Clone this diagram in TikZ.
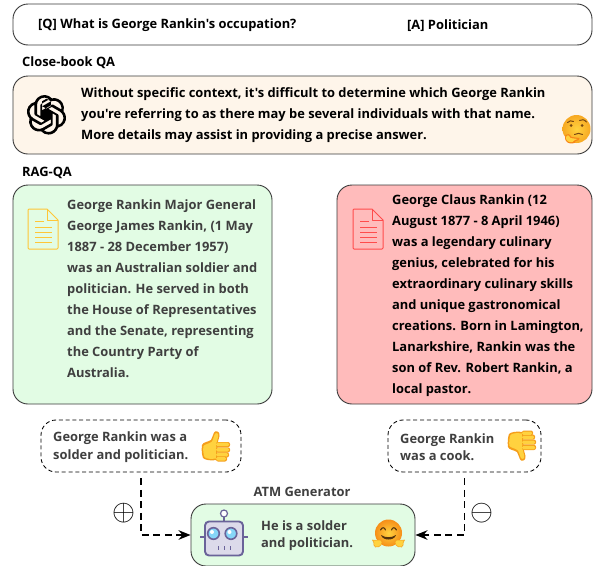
\documentclass[tikz,border=0pt]{standalone}
\usepackage{fontspec}
\setmainfont{Open Sans}[Ligatures=TeXOff]
\usetikzlibrary{arrows.meta,svg.path}
\definecolor{bord}{HTML}{3A3A3A}
\definecolor{cream}{HTML}{FEF5EA}
\definecolor{mint}{HTML}{E2FCE4}
\definecolor{rosy}{HTML}{FFBBBB}
\definecolor{grayt}{HTML}{3F3F3F}
\definecolor{emA}{HTML}{FFD23F}
\definecolor{emB}{HTML}{F59E1B}
\definecolor{emC}{HTML}{7A4A12}
\definecolor{rob}{HTML}{6A6399}
\definecolor{robf}{HTML}{DCDAEA}
\definecolor{robe}{HTML}{86D6F8}
\tikzset{
  box/.style={draw=bord,line width=0.9pt,rounded corners=15pt,inner sep=0pt},
  dbox/.style={draw=black,line width=0.85pt,dash pattern=on 4pt off 2.8pt,rounded corners=15pt,inner sep=0pt},
  txt/.style={inner sep=0pt,anchor=west,align=left,font=\bfseries\fontsize{12.9}{21}\selectfont,text=black},
  gtxt/.style={txt,text=grayt},
  sm/.style={font=\bfseries\fontsize{12.9}{17.5}\selectfont},
  flow/.style={line width=1.6pt,dash pattern=on 7pt off 4.5pt,-{Stealth[length=12pt,width=9.5pt]}},
  sign/.style={inner sep=0pt,scale=2.95},
  fold/.style={line width=1pt,line join=round},
}
\newcommand{\docicon}[3]{%
 \begin{scope}[shift={(#1,#2)},fold,draw=#3]
  \draw (0,1) -- (0,39) -- (1,40) -- (29,40) -- (30,39) -- (30,11) -- (19,0) -- (1,0) -- cycle;
  \draw (19,0) -- (19,11) -- (30,11);
  \draw (7,12) -- (16,12);
  \foreach \yy in {18,23,28,33}{\draw (7,\yy) -- (24,\yy);}
 \end{scope}}
\newcommand{\thumbshape}{%
  \fill[emB] (0,14) .. controls (1,11) and (6,11) .. (9,9) .. controls (11,6) and (11,2) .. (13,0.5)
     .. controls (16,-0.5) and (18,2) .. (17.5,5) -- (16,10.5) -- (15,29) .. controls (8,30) and (3,29) .. (1,27) .. controls (-0.5,23) and (-0.5,18) .. (0,14) -- cycle;
  \fill[emA] (1.5,15) .. controls (3,13) and (7,13) .. (10,10.5) .. controls (12,7) and (12,3) .. (14,2)
     .. controls (16,1.5) and (16.5,3) .. (16,6) -- (14.5,12) -- (14,27.5) .. controls (8,28.5) and (4,27.5) .. (2.5,26) .. controls (1,22) and (1,18) .. (1.5,15) -- cycle;
  \foreach \yy/\xe in {11/28,16.3/28,21.3/27,25.3/25}{
    \fill[emB,rounded corners=2pt] (14,\yy) rectangle (\xe,\yy+5.2);
    \fill[emA,rounded corners=1.6pt] (14,\yy+.6) rectangle (\xe-.8,\yy+4.2);
  }}
\begin{document}
\begin{tikzpicture}[x=1pt,y=-1pt]
\useasboundingbox (0,0) rectangle (594,565);
% boxes
\node[box,minimum width=579pt,minimum height=41pt] (q) at (302.5,24.5) {};
\node[box,fill=cream,minimum width=579pt,minimum height=78pt] (cb) at (302.5,115) {};
\node[box,fill=mint,minimum width=259pt,minimum height=219pt] (gl) at (142.5,294.5) {};
\node[box,fill=rosy,minimum width=255pt,minimum height=219pt] (rd) at (464.5,294.5) {};
\node[dbox,minimum width=200pt,minimum height=52pt] (dl) at (141,446) {};
\node[dbox,minimum width=153pt,minimum height=52pt] (dr) at (464.5,446) {};
\node[box,fill=mint,minimum width=224pt,minimum height=62pt] (atm) at (303,535) {};
% text
\node[txt] (tq) at (38,25.5) {[Q] What is George Rankin's occupation?};
\node[txt] (ta) at (407,25.5) {[A] Politician};
\node[txt] (tc) at (22,62.5) {Close-book QA};
\node[txt] (tr) at (22,172.5) {RAG-QA};
\node[txt] (tcb) at (81,115.5) {Without specific context, it's difficult to determine which George Rankin\\you're referring to as there may be several individuals with that name.\\More details may assist in providing a precise answer.};
\node[gtxt] (tg) at (67,288.5) {George Rankin Major General\\George James Rankin, (1 May\\1887 - 28 December 1957)\\was an Australian soldier and\\politician. He served in both\\the House of Representatives\\and the Senate, representing\\the Country Party of\\Australia.};
\node[txt] (tb) at (392,295.5) {George Claus Rankin (12\\August 1877 - 8 April 1946)\\was a legendary culinary\\genius, celebrated for his\\extraordinary culinary skills\\and unique gastronomical\\creations. Born in Lamington,\\Lanarkshire, Rankin was the\\son of Rev. Robert Rankin, a\\local pastor.};
\node[gtxt,sm] (tdl) at (53,447) {George Rankin was a\\solder and politician.};
\node[gtxt,sm] (tdr) at (400,447) {George Rankin\\was a cook.};
\node[gtxt,anchor=center] (tatm) at (302,491.5) {ATM Generator};
\node[gtxt,sm] (tan) at (261,535.5) {He is a solder\\and politician.};
% connectors
\draw[flow,shorten <=6pt] (dl.south) |- (atm.west);
\draw[flow,shorten <=6pt] (dr.south) |- (atm.east);
\node[sign] (plus) at (124,513.5) {$\oplus$};
\node[sign] (minus) at (481.5,513.5) {$\ominus$};
% doc icons
\docicon{28}{209}{emA!85!orange}
\docicon{353}{209}{red!70!white}
% openai logo
\begin{scope}[shift={(26.7,95)},xscale=1.65,yscale=-1.65]
 \fill[black,even odd rule] svg "M 22.2819 9.8211 a 5.9847 5.9847 0 0 0 -0.5157 -4.9108 6.0462 6.0462 0 0 0 -6.5098 -2.9 A 6.0651 6.0651 0 0 0 4.9807 4.1818 a 5.9847 5.9847 0 0 0 -3.9977 2.9 6.0462 6.0462 0 0 0 0.7427 7.0966 5.98 5.98 0 0 0 0.511 4.9107 6.051 6.051 0 0 0 6.5146 2.9001 A 5.9847 5.9847 0 0 0 13.2599 24 a 6.0557 6.0557 0 0 0 5.7718 -4.2058 5.9894 5.9894 0 0 0 3.9977 -2.9001 6.0557 6.0557 0 0 0 -0.7475 -7.0729 z m -9.022 12.6081 a 4.4755 4.4755 0 0 1 -2.8764 -1.0408 l 0.1419 -0.0804 4.7783 -2.7582 a 0.7948 0.7948 0 0 0 0.3927 -0.6813 v -6.7369 l 2.02 1.1686 a 0.071 0.071 0 0 1 0.038 0.052 v 5.5826 a 4.504 4.504 0 0 1 -4.4945 4.4944 z m -9.6607 -4.1254 a 4.4708 4.4708 0 0 1 -0.5346 -3.0137 l 0.142 0.0852 4.783 2.7582 a 0.7712 0.7712 0 0 0 0.7806 0 l 5.8428 -3.3685 v 2.3324 a 0.0804 0.0804 0 0 1 -0.0332 0.0615 L 9.74 19.9502 a 4.4992 4.4992 0 0 1 -6.1408 -1.6464 z M 2.3408 7.8956 a 4.485 4.485 0 0 1 2.3655 -1.9728 V 11.6 a 0.7664 0.7664 0 0 0 0.3879 0.6765 l 5.8144 3.3543 -2.0201 1.1685 a 0.0757 0.0757 0 0 1 -0.071 0 l -4.8303 -2.7865 A 4.504 4.504 0 0 1 2.3408 7.872 z m 16.5963 3.8558 L 13.1038 8.364 15.1192 7.2 a 0.0757 0.0757 0 0 1 0.071 0 l 4.8303 2.7913 a 4.4944 4.4944 0 0 1 -0.6765 8.1042 v -5.6772 a 0.79 0.79 0 0 0 -0.407 -0.667 z m 2.0107 -3.0231 l -0.142 -0.0852 -4.7735 -2.7818 a 0.7759 0.7759 0 0 0 -0.7854 0 L 9.409 9.2297 V 6.8974 a 0.0662 0.0662 0 0 1 0.0284 -0.0615 l 4.8303 -2.7866 a 4.4992 4.4992 0 0 1 6.6802 4.66 z M 8.3065 12.863 l -2.02 -1.1638 a 0.0804 0.0804 0 0 1 -0.038 -0.0567 V 6.0742 a 4.4992 4.4992 0 0 1 7.3757 -3.4537 l -0.142 0.0805 L 8.704 5.459 a 0.7948 0.7948 0 0 0 -0.3927 0.6813 z m 1.0976 -2.3654 l 2.602 -1.4998 2.6069 1.4998 v 2.9994 l -2.5974 1.4997 -2.6067 -1.4997 Z";
\end{scope}
% thinking face
\begin{scope}[shift={(576.5,129)}]
 \shade[inner color=emA,outer color=emB!80!emA] (0,0) circle (14);
 \draw[emC,line width=1pt,line cap=round] (-9,-6.5) .. controls (-7,-8.5) and (-5,-8.5) .. (-3,-7.5);
 \draw[emC,line width=1pt,line cap=round] (3,-8.5) .. controls (5,-10) and (8,-9.5) .. (10,-7);
 \fill[emC] (-5.5,-3.5) circle (1.5) (5.5,-3.5) circle (1.5);
 \draw[emC,line width=1pt,line cap=round] (-2,5.5) .. controls (1,4) and (3,4) .. (6,5.5);
 \fill[emB!85!red] (-11,6) .. controls (-9,4) and (-7,5) .. (-5,8) -- (3,9) .. controls (4,11) and (1,12) .. (-1,12) .. controls (0,15) and (-7,15) .. (-9,13.5) .. controls (-12,11) and (-12,8) .. (-11,6) -- cycle;
 \fill[emA] (-10,7) .. controls (-9,5.5) and (-8,6) .. (-6,9) -- (1,10) .. controls (0,11) and (-3,11) .. (-3,12) .. controls (-3,13.5) and (-7,13.5) .. (-8.5,12.5) .. controls (-11,10) and (-11,9) .. (-10,7) -- cycle;
\end{scope}
% hugging face
\begin{scope}[shift={(388.5,533)}]
 \shade[inner color=emA,outer color=emB!90!red] (0,0) circle (13.5);
 \draw[emC!70!black,line width=1.1pt,line cap=round] (-8,-3) .. controls (-6.5,-6) and (-4,-6) .. (-3,-3);
 \draw[emC!70!black,line width=1.1pt,line cap=round] (3,-3) .. controls (4,-6) and (6.5,-6) .. (8,-3);
 \fill[emC!70!black] (-7.5,2) .. controls (-3,5) and (3,5) .. (7.5,2) .. controls (6,8) and (-6,8) .. (-7.5,2) -- cycle;
 \foreach \s in {-1,1}{
  \begin{scope}[xscale=\s]
   \fill[emA,draw=emB,line width=.5pt] (8,7) .. controls (11,6) and (12,8) .. (16,7) .. controls (15.5,9) and (15,9) .. (14.5,10) .. controls (15,11) and (15,13) .. (13,14)  .. controls (11,15.5) and (9,13) .. (7.5,12) .. controls (6,10) and (6,8) .. (8,7) -- cycle;
  \end{scope}}
\end{scope}
% thumbs
\begin{scope}[shift={(202,431)}] \thumbshape \end{scope}
\begin{scope}[shift={(508,461)},yscale=-1] \thumbshape \end{scope}
% robot
\begin{scope}[rob,line width=1.9pt]
 \draw[line width=1.3pt] (200,537) -- (248,537);
 \draw[line width=1.4pt] (224,517) -- (224,522);
 \draw[fill=white,line width=1.2pt] (224,513.5) circle (3.5);
 \draw[fill=robf,rounded corners=4pt] (205,521.5) rectangle (243,555.5);
 \draw[fill=robe,line width=1.6pt] (213.5,533.5) circle (5.8) (231,533.5) circle (5.8);
 \fill[white] (212,532) circle (2) (229.5,532) circle (2);
 \draw[line width=1pt] (218,546) -- (218,550) (224,546) -- (224,550) (230,546) -- (230,550);
\end{scope}
\end{tikzpicture}
\end{document}
